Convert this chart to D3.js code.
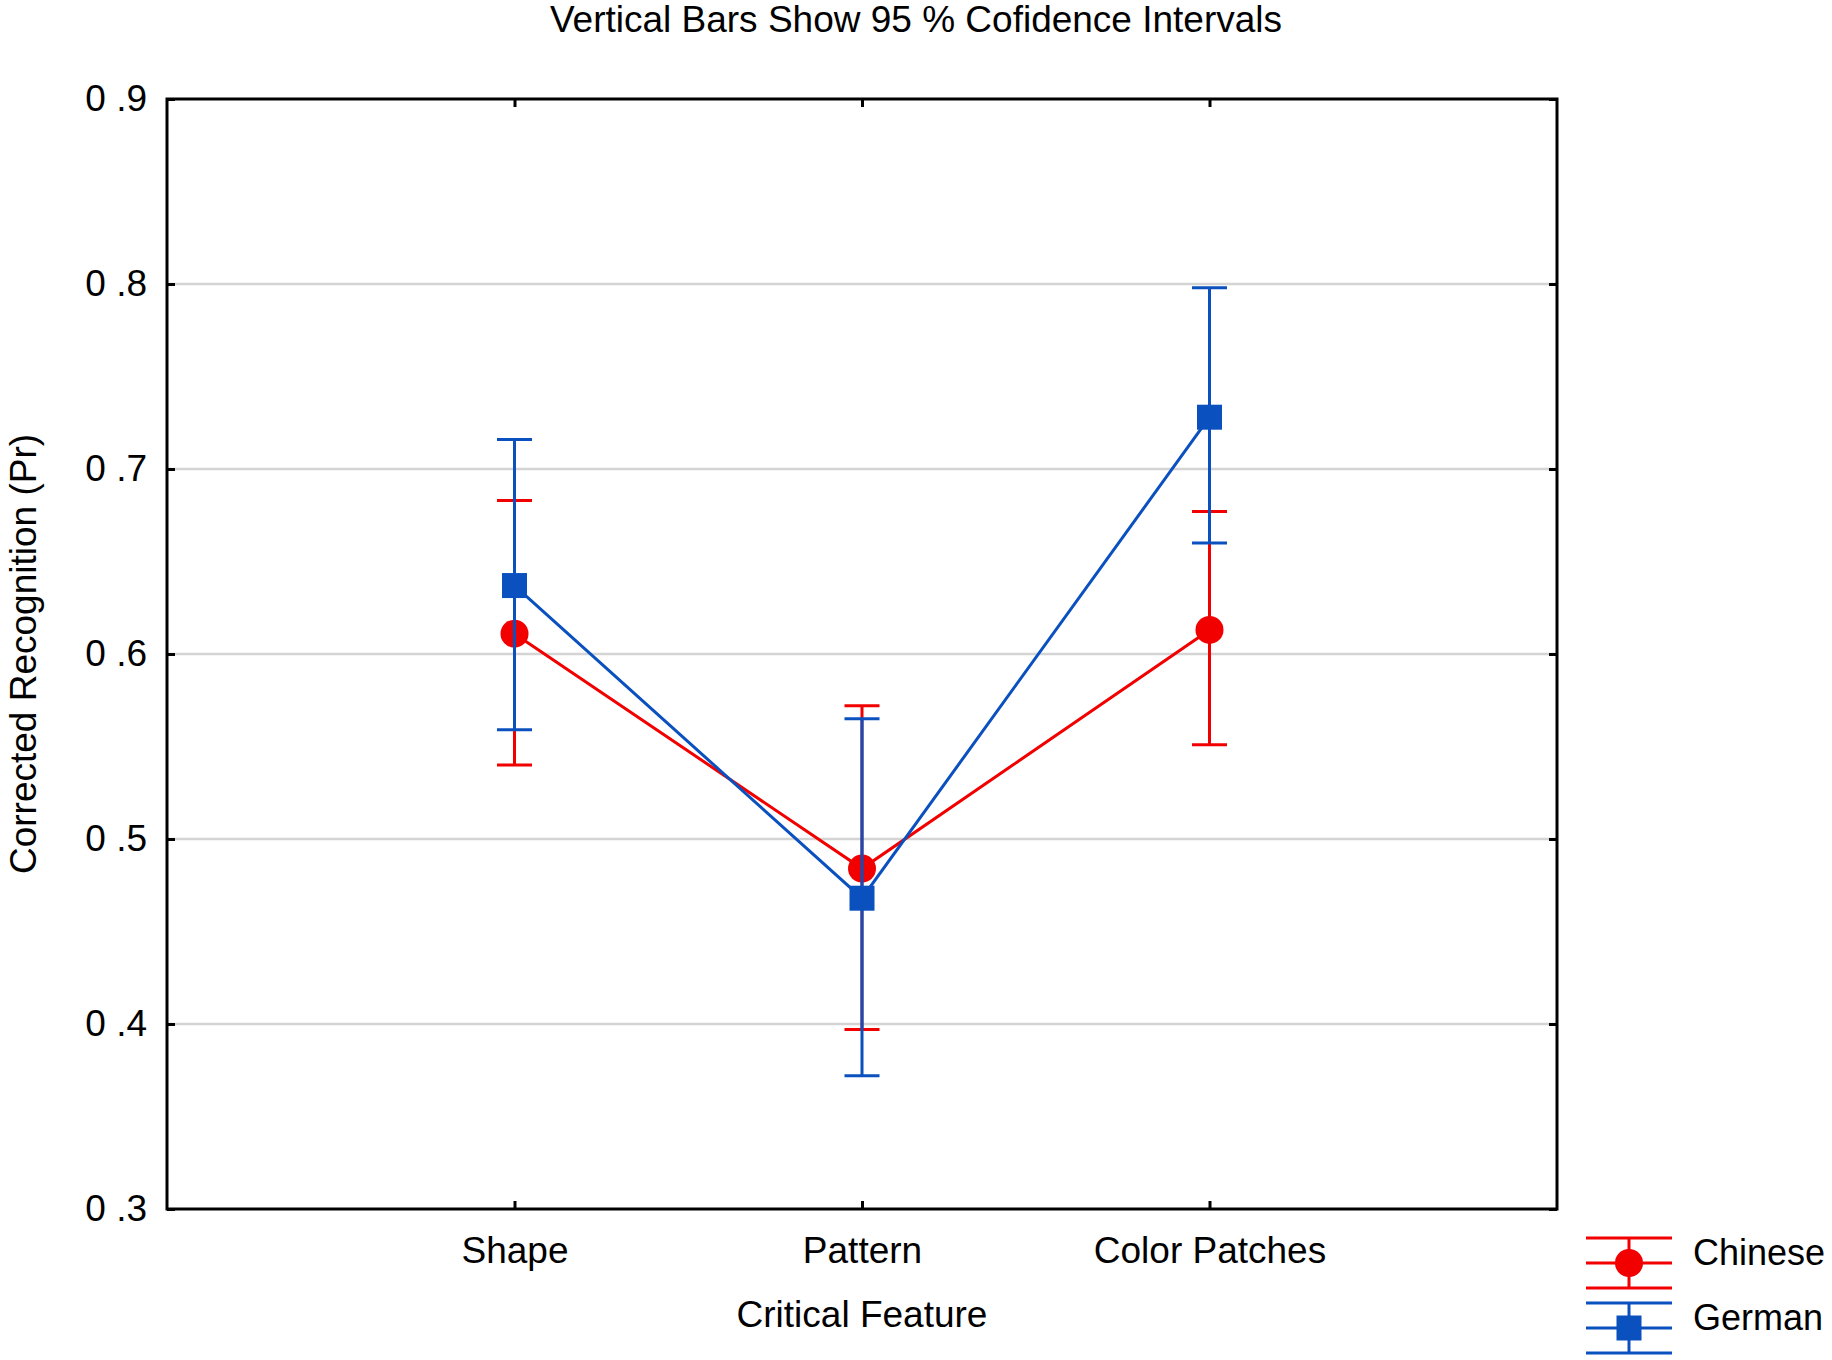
<!DOCTYPE html>
<html>
<head>
<meta charset="utf-8">
<script src="https://cdn.jsdelivr.net/npm/d3@7"></script>
<style>
    body { margin: 0; background: #fff; }
    text { font-family: Arial, "Liberation Sans", sans-serif; fill: #000; }
</style>
</head>
<body>
<div id="chart"></div>
<script>
// data
const categories = ["Shape", "Pattern", "Color Patches"];
const chineseMean = [0.611, 0.484, 0.613];
const chineseLow = [0.540, 0.397, 0.551];
const chineseHigh = [0.683, 0.572, 0.677];
const germanMean = [0.637, 0.468, 0.728];
const germanLow = [0.559, 0.372, 0.660];
const germanHigh = [0.716, 0.565, 0.798];
const yTickValues = [0.3, 0.4, 0.5, 0.6, 0.7, 0.8, 0.9];
const yTickLabels = ["0 .3", "0 .4", "0 .5", "0 .6", "0 .7", "0 .8", "0 .9"];
const gridValues = [0.4, 0.5, 0.6, 0.7, 0.8];

const series = [
    { name: "Chinese", mean: chineseMean, low: chineseLow, high: chineseHigh, color: "#f20000", marker: "circle" },
    { name: "German", mean: germanMean, low: germanLow, high: germanHigh, color: "#0a50bf", marker: "square" }
];

const drawChart = () => {
    const width = 1832;
    const height = 1360;
    const margin = { top: 99, right: 275, bottom: 151, left: 167 };
    const innerWidth = width - margin.left - margin.right;
    const innerHeight = height - margin.top - margin.bottom;

    const xScale = d3.scalePoint()
        .domain(categories)
        .range([0, innerWidth])
        .padding(1);

    const yScale = d3.scaleLinear()
        .domain([0.3, 0.9])
        .range([innerHeight, 0]);

    const svg = d3.select("#chart")
        .append("svg")
        .attr("width", width)
        .attr("height", height);

    const innerChart = svg.append("g")
        .attr("transform", `translate(${margin.left},${margin.top})`);

    // grid lines
    innerChart.selectAll(".grid")
        .data(gridValues)
        .join("line")
            .attr("class", "grid")
            .attr("x1", 0)
            .attr("x2", innerWidth)
            .attr("y1", d => yScale(d))
            .attr("y2", d => yScale(d))
            .attr("stroke", "#d4d4d4")
            .attr("stroke-width", 2.5);

    // axes, ticks pointing inward
    const leftAxis = d3.axisLeft(yScale)
        .tickValues(yTickValues)
        .tickFormat((d, i) => yTickLabels[i])
        .tickSizeInner(-8)
        .tickSizeOuter(0)
        .tickPadding(20);
    const rightAxis = d3.axisRight(yScale)
        .tickValues(yTickValues)
        .tickFormat("")
        .tickSizeInner(-8)
        .tickSizeOuter(0);
    const bottomAxis = d3.axisBottom(xScale)
        .tickSizeInner(-8)
        .tickSizeOuter(0)
        .tickPadding(28);
    const topAxis = d3.axisTop(xScale)
        .tickFormat("")
        .tickSizeInner(-8)
        .tickSizeOuter(0);

    const axes = [
        innerChart.append("g").call(leftAxis),
        innerChart.append("g").attr("transform", `translate(${innerWidth},0)`).call(rightAxis),
        innerChart.append("g").attr("transform", `translate(0,${innerHeight})`).call(bottomAxis),
        innerChart.append("g").call(topAxis)
    ];
    axes.forEach(g => {
        g.select(".domain").remove();
        g.selectAll(".tick line").attr("stroke", "#000").attr("stroke-width", 3);
        g.selectAll(".tick text").style("font-size", "37px").attr("fill", "#000");
    });

    // frame
    innerChart.append("rect")
        .attr("width", innerWidth)
        .attr("height", innerHeight)
        .attr("fill", "none")
        .attr("stroke", "#000")
        .attr("stroke-width", 3);

    const lineGenerator = d3.line()
        .x(d => xScale(d.cat))
        .y(d => yScale(d.value));

    const capHalf = 17.5;

    series.forEach(s => {
        const points = categories.map((c, i) => ({ cat: c, value: s.mean[i], low: s.low[i], high: s.high[i] }));
        const g = innerChart.append("g").attr("class", `series-${s.name}`);

        // error bars
        g.selectAll(".bar")
            .data(points)
            .join("line")
                .attr("x1", d => xScale(d.cat))
                .attr("x2", d => xScale(d.cat))
                .attr("y1", d => yScale(d.low))
                .attr("y2", d => yScale(d.high))
                .attr("stroke", s.color)
                .attr("stroke-width", 3);
        ["low", "high"].forEach(k => {
            g.selectAll(`.cap-${k}`)
                .data(points)
                .join("line")
                    .attr("x1", d => xScale(d.cat) - capHalf)
                    .attr("x2", d => xScale(d.cat) + capHalf)
                    .attr("y1", d => yScale(d[k]))
                    .attr("y2", d => yScale(d[k]))
                    .attr("stroke", s.color)
                    .attr("stroke-width", 3);
        });

        // connecting line
        g.append("path")
            .datum(points)
            .attr("d", lineGenerator)
            .attr("fill", "none")
            .attr("stroke", s.color)
            .attr("stroke-width", 3);

        // markers
        if (s.marker === "circle") {
            g.selectAll(".marker")
                .data(points)
                .join("circle")
                    .attr("cx", d => xScale(d.cat))
                    .attr("cy", d => yScale(d.value))
                    .attr("r", 14)
                    .attr("fill", s.color);
        } else {
            g.selectAll(".marker")
                .data(points)
                .join("rect")
                    .attr("x", d => xScale(d.cat) - 12.5)
                    .attr("y", d => yScale(d.value) - 12.5)
                    .attr("width", 25)
                    .attr("height", 25)
                    .attr("fill", s.color);
        }
    });

    // titles
    svg.append("text")
        .text("Vertical Bars Show 95 % Cofidence Intervals")
        .attr("x", width / 2)
        .attr("y", 32)
        .attr("text-anchor", "middle")
        .style("font-size", "37px");

    svg.append("text")
        .text("Critical Feature")
        .attr("x", margin.left + innerWidth / 2)
        .attr("y", 1327)
        .attr("text-anchor", "middle")
        .style("font-size", "37px");

    svg.append("text")
        .text("Corrected Recognition (Pr)")
        .attr("transform", `translate(36,${margin.top + innerHeight / 2}) rotate(-90)`)
        .attr("text-anchor", "middle")
        .style("font-size", "37px");

    // legend
    const legend = svg.append("g").attr("transform", "translate(1629,1263)");
    series.forEach((s, i) => {
        const item = legend.append("g").attr("transform", `translate(0,${i * 65})`);
        [-25, 0, 25].forEach(dy => {
            item.append("line")
                .attr("x1", -43).attr("x2", 43)
                .attr("y1", dy).attr("y2", dy)
                .attr("stroke", s.color)
                .attr("stroke-width", 3);
        });
        item.append("line")
            .attr("x1", 0).attr("x2", 0)
            .attr("y1", -25).attr("y2", 25)
            .attr("stroke", s.color)
            .attr("stroke-width", 3);
        if (s.marker === "circle") {
            item.append("circle").attr("r", 14).attr("fill", s.color);
        } else {
            item.append("rect")
                .attr("x", -12.5).attr("y", -12.5)
                .attr("width", 25).attr("height", 25)
                .attr("fill", s.color);
        }
        item.append("text")
            .text(s.name)
            .attr("x", 64)
            .attr("y", 2)
            .style("font-size", "36px");
    });
};

drawChart();
</script>
</body>
</html>
